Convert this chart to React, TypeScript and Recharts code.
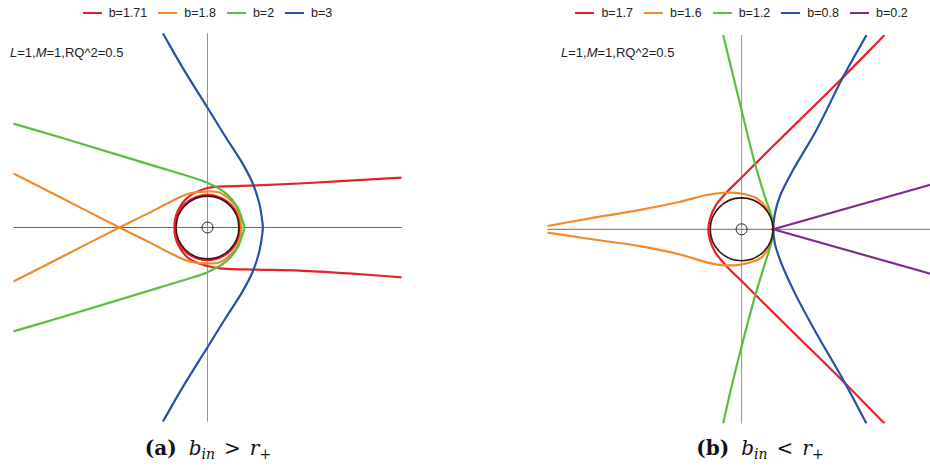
import React from "react";
import { LineChart, Line, XAxis, YAxis, ReferenceLine, ReferenceDot, Legend } from "recharts";

// trajectories, units of the plot (axes run -6..6)
const redA = [
  { x: 6.0, y: 1.54 }, { x: 4.38, y: 1.45 }, { x: 2.84, y: 1.36 }, { x: 1.51, y: 1.3 },
  { x: 0.46, y: 1.27 }, { x: 0.0, y: 1.22 }, { x: -0.56, y: 0.97 }, { x: -0.91, y: 0.53 },
  { x: -1.02, y: 0.0 }, { x: -0.87, y: -0.51 }, { x: -0.51, y: -0.87 }, { x: 0.0, y: -1.01 },
  { x: 0.51, y: -0.87 }, { x: 0.87, y: -0.51 }, { x: 1.01, y: 0.0 }, { x: 0.87, y: 0.51 },
  { x: 0.51, y: 0.87 }, { x: 0.0, y: 1.01 }, { x: -0.51, y: 0.87 }, { x: -0.87, y: 0.51 },
  { x: -1.02, y: 0.0 }, { x: -0.91, y: -0.53 }, { x: -0.56, y: -0.97 }, { x: 0.0, y: -1.19 },
  { x: 0.46, y: -1.27 }, { x: 1.51, y: -1.3 }, { x: 2.84, y: -1.33 }, { x: 4.38, y: -1.42 },
  { x: 6.0, y: -1.54 },
];
const orangeA = [
  { x: -6.0, y: -1.67 }, { x: -4.37, y: -0.84 }, { x: -2.72, y: 0 }, { x: -1.79, y: 0.46 },
  { x: -1.08, y: 0.83 }, { x: -0.56, y: 1.05 }, { x: -0.03, y: 1.11 }, { x: 0.37, y: 1.08 },
  { x: 0.75, y: 0.8 }, { x: 0.95, y: 0.5 }, { x: 1.05, y: 0 }, { x: 0.95, y: -0.5 },
  { x: 0.75, y: -0.8 }, { x: 0.37, y: -1.08 }, { x: -0.03, y: -1.11 }, { x: -0.56, y: -1.05 },
  { x: -1.08, y: -0.83 }, { x: -1.79, y: -0.46 }, { x: -2.72, y: 0 }, { x: -4.37, y: 0.84 },
  { x: -6.0, y: 1.67 },
];
const greenA = [
  { x: -6.0, y: 3.21 }, { x: -4.33, y: 2.72 }, { x: -2.79, y: 2.25 }, { x: -1.47, y: 1.85 },
  { x: -0.64, y: 1.6 }, { x: -0.02, y: 1.39 }, { x: 0.59, y: 1.04 }, { x: 0.93, y: 0.62 },
  { x: 1.08, y: 0.22 }, { x: 1.14, y: 0 }, { x: 1.08, y: -0.22 }, { x: 0.93, y: -0.62 },
  { x: 0.59, y: -1.04 }, { x: -0.02, y: -1.39 }, { x: -0.64, y: -1.6 }, { x: -1.47, y: -1.85 },
  { x: -2.79, y: -2.25 }, { x: -4.33, y: -2.72 }, { x: -6.0, y: -3.21 },
];
const blueA = [
  { x: -1.38, y: 6.0 }, { x: -0.77, y: 4.94 }, { x: 0.0, y: 3.7 }, { x: 0.57, y: 2.78 },
  { x: 1.08, y: 1.98 }, { x: 1.4, y: 1.36 }, { x: 1.6, y: 0.74 }, { x: 1.69, y: 0.22 },
  { x: 1.71, y: 0 }, { x: 1.69, y: -0.22 }, { x: 1.6, y: -0.74 }, { x: 1.4, y: -1.36 },
  { x: 1.08, y: -1.98 }, { x: 0.57, y: -2.78 }, { x: 0.0, y: -3.7 }, { x: -0.77, y: -4.94 },
  { x: -1.38, y: -6.0 },
];

const redB = [
  { x: 4.42, y: 6.0 }, { x: 3.14, y: 4.7 }, { x: 1.8, y: 3.38 }, { x: 0.78, y: 2.38 },
  { x: 0.0, y: 1.6 }, { x: -0.5, y: 1.1 }, { x: -0.82, y: 0.7 }, { x: -0.98, y: 0.32 },
  { x: -1.03, y: 0 }, { x: -0.98, y: -0.32 }, { x: -0.82, y: -0.7 }, { x: -0.5, y: -1.1 },
  { x: 0.0, y: -1.6 }, { x: 0.78, y: -2.38 }, { x: 1.8, y: -3.38 }, { x: 3.14, y: -4.7 },
  { x: 4.42, y: -6.0 },
];
const orangeB = [
  { x: -6.02, y: 0.1 }, { x: -4.68, y: 0.34 }, { x: -3.14, y: 0.6 }, { x: -1.9, y: 0.85 },
  { x: -1.08, y: 1.06 }, { x: -0.57, y: 1.13 }, { x: -0.05, y: 1.11 }, { x: 0.46, y: 0.96 },
  { x: 0.87, y: 0.49 }, { x: 0.98, y: 0 }, { x: 0.9, y: -0.42 }, { x: 0.6, y: -0.88 },
  { x: -0.05, y: -1.09 }, { x: -0.57, y: -1.11 }, { x: -1.08, y: -1.02 }, { x: -1.9, y: -0.78 },
  { x: -3.14, y: -0.52 }, { x: -4.68, y: -0.3 }, { x: -6.02, y: -0.1 },
];
const greenB = [
  { x: -0.57, y: 6.0 }, { x: 0.0, y: 3.68 }, { x: 0.41, y: 2.04 }, { x: 0.72, y: 1.01 },
  { x: 0.93, y: 0.39 }, { x: 0.98, y: 0 }, { x: 0.91, y: -0.45 }, { x: 0.74, y: -1.0 },
  { x: 0.41, y: -2.08 }, { x: 0.0, y: -3.62 }, { x: -0.31, y: -4.86 }, { x: -0.57, y: -6.0 },
];
const blueB = [
  { x: 3.86, y: 6.0 }, { x: 3.14, y: 4.71 }, { x: 2.31, y: 3.06 }, { x: 1.59, y: 1.83 },
  { x: 1.18, y: 1.01 }, { x: 1.03, y: 0.49 }, { x: 0.98, y: 0 }, { x: 1.03, y: -0.45 },
  { x: 1.23, y: -1.05 }, { x: 1.7, y: -2.08 }, { x: 2.31, y: -3.21 }, { x: 3.14, y: -4.65 },
  { x: 3.86, y: -6.0 },
];
const purpleB = [{ x: 6.0, y: 1.42 }, { x: 0.98, y: 0 }, { x: 6.0, y: -1.42 }];

const namesA = ["b=1.71", "b=1.8", "b=2", "b=3"];
const namesB = ["b=1.7", "b=1.6", "b=1.2", "b=0.8", "b=0.2"];

const HORIZON_R = 0.97;
const CORE_R = 0.17;

const RED = "#e5222a";
const ORANGE = "#f28a2b";
const GREEN = "#5cbd42";
const BLUE = "#2750a6";
const PURPLE = "#7b2f92";
const AXIS_H = "#8b5a48";
const AXIS_V = "#a0908a";

const CHART_W = 415;
const CHART_H = 470;

// centripetal catmull-rom, passes through every point without the wobble of "natural"
const smooth = (context: any) => {
  let pts: number[][] = [];
  return {
    areaStart() {},
    areaEnd() {},
    lineStart() {
      pts = [];
    },
    point(x: number, y: number) {
      pts.push([+x, +y]);
    },
    lineEnd() {
      const n = pts.length;
      if (!n) return;
      context.moveTo(pts[0][0], pts[0][1]);
      const dist = (a: number[], b: number[]) =>
        Math.max(Math.pow(Math.hypot(b[0] - a[0], b[1] - a[1]), 0.5), 1e-6);
      for (let i = 0; i < n - 1; i++) {
        const p1 = pts[i];
        const p2 = pts[i + 1];
        const p0 = pts[i - 1] || [2 * p1[0] - p2[0], 2 * p1[1] - p2[1]];
        const p3 = pts[i + 2] || [2 * p2[0] - p1[0], 2 * p2[1] - p1[1]];
        const t01 = dist(p0, p1);
        const t12 = dist(p1, p2);
        const t23 = dist(p2, p3);
        const m1 = [0, 1].map(
          (k) => t12 * ((p1[k] - p0[k]) / t01 - (p2[k] - p0[k]) / (t01 + t12) + (p2[k] - p1[k]) / t12)
        );
        const m2 = [0, 1].map(
          (k) => t12 * ((p2[k] - p1[k]) / t12 - (p3[k] - p1[k]) / (t12 + t23) + (p3[k] - p2[k]) / t23)
        );
        context.bezierCurveTo(
          p1[0] + m1[0] / 3,
          p1[1] + m1[1] / 3,
          p2[0] - m2[0] / 3,
          p2[1] - m2[1] / 3,
          p2[0],
          p2[1]
        );
      }
    },
  };
};

const LegendRow = (props: any) => {
  const { payload, order } = props;
  const items = [...(payload || [])].sort(
    (a: any, b: any) => order.indexOf(a.value) - order.indexOf(b.value)
  );
  return (
    <div
      style={{
        display: "flex",
        justifyContent: "center",
        fontFamily: "'Liberation Sans', Arial, sans-serif",
        fontSize: 12.5,
        color: "#222",
      }}
    >
      {items.map((p: any) => (
        <span key={p.value} style={{ display: "inline-flex", alignItems: "center", margin: "0 5.5px" }}>
          <svg width={19} height={4}>
            <line x1={0} y1={2} x2={19} y2={2} stroke={p.color} strokeWidth={2} />
          </svg>
          <span style={{ marginLeft: 7 }}>{p.value}</span>
        </span>
      ))}
    </div>
  );
};

const Panel = ({ series, order, margin, noteX, caption }: any) => {
  const unit = (CHART_W - margin.left - margin.right) / 12;
  return (
    <LineChart width={CHART_W} height={CHART_H} margin={margin}>
      <XAxis type="number" dataKey="x" domain={[-6, 6]} hide allowDataOverflow />
      <YAxis type="number" dataKey="y" domain={[-6, 6]} hide allowDataOverflow />
      <ReferenceLine x={0} stroke={AXIS_V} strokeWidth={1} />
      <ReferenceLine y={0} stroke={AXIS_H} strokeWidth={1} />
      <Legend
        verticalAlign="middle"
        align="center"
        layout="horizontal"
        content={<LegendRow order={order} />}
        wrapperStyle={{ top: 6, left: 0, width: CHART_W }}
      />
      {series.map((s: any) => (
        <Line
          key={s.name}
          name={s.name}
          data={s.data}
          dataKey="y"
          type={s.linear ? "linear" : smooth}
          stroke={s.color}
          strokeWidth={2.2}
          dot={false}
          activeDot={false}
          isAnimationActive={false}
        />
      ))}
      <ReferenceDot x={0} y={0} r={HORIZON_R * unit} fill="none" stroke="#3d1012" strokeWidth={1.6} />
      <ReferenceDot x={0} y={0} r={CORE_R * unit} fill="none" stroke="#222" strokeWidth={1} />
      <text x={noteX} y={57} fontFamily="'Liberation Sans', Arial, sans-serif" fontSize={13} fill="#222">
        <tspan fontStyle="italic">L</tspan>=1,<tspan fontStyle="italic">M</tspan>=1,RQ^2=0.5
      </text>
      <text
        x={caption.x}
        y={455}
        textAnchor="middle"
        fontFamily="'DejaVu Serif', serif"
        fontSize={20}
        fill="#111"
      >
        <tspan fontWeight="bold">{caption.tag}</tspan>
        <tspan dx={12} fontStyle="italic">b</tspan>
        <tspan fontStyle="italic" fontSize={14} dy={4}>in</tspan>
        <tspan dy={-4} dx={9}>{caption.rel}</tspan>
        <tspan dx={9} fontStyle="italic">r</tspan>
        <tspan fontSize={14} dy={4}>+</tspan>
      </text>
    </LineChart>
  );
};

export default function App() {
  const seriesA = [
    { name: namesA[0], data: redA, color: RED },
    { name: namesA[1], data: orangeA, color: ORANGE },
    { name: namesA[2], data: greenA, color: GREEN },
    { name: namesA[3], data: blueA, color: BLUE },
  ];
  const seriesB = [
    { name: namesB[0], data: redB, color: RED },
    { name: namesB[1], data: orangeB, color: ORANGE },
    { name: namesB[2], data: greenB, color: GREEN },
    { name: namesB[3], data: blueB, color: BLUE },
    { name: namesB[4], data: purpleB, color: PURPLE, linear: true },
  ];
  return (
    <div
      style={{
        position: "absolute",
        left: 0,
        top: 0,
        width: 930,
        height: 470,
        overflow: "hidden",
        background: "#fff",
      }}
    >
      <div style={{ position: "absolute", left: 0, top: 0 }}>
        <Panel
          series={seriesA}
          order={namesA}
          margin={{ top: 33.3, right: 13.3, bottom: 48.3, left: 13.3 }}
          noteX={10}
          caption={{ x: 208, tag: "(a)", rel: ">" }}
        />
      </div>
      <div style={{ position: "absolute", left: 534, top: 0 }}>
        <Panel
          series={seriesB}
          order={namesB}
          margin={{ top: 35.1, right: 13.3, bottom: 46.5, left: 13.5 }}
          noteX={27}
          caption={{ x: 226, tag: "(b)", rel: "<" }}
        />
      </div>
    </div>
  );
}
